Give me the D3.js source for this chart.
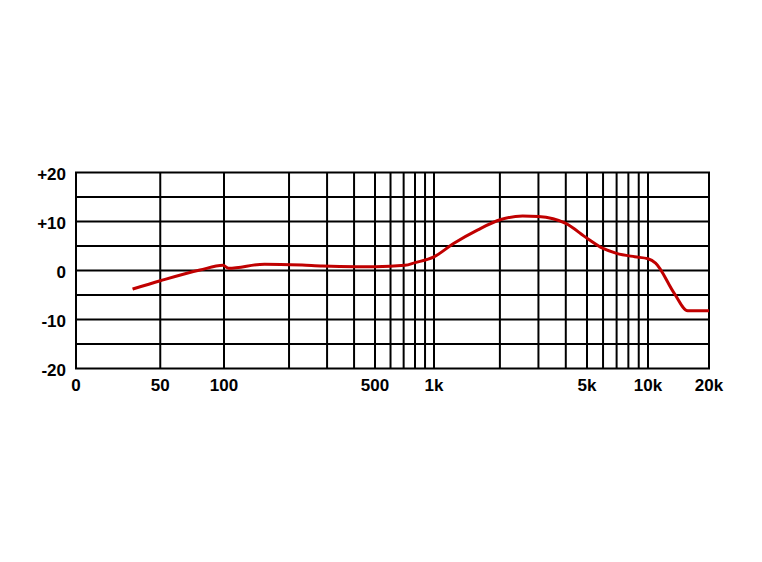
<!DOCTYPE html>
<html>
<head>
<meta charset="utf-8">
<script src="https://cdn.jsdelivr.net/npm/d3@7"></script>
<style>
  body { margin: 0; background: #fff; }
  text { font-family: "Liberation Sans", Arial, sans-serif; font-weight: bold; font-size: 17px; fill: #000; }
</style>
</head>
<body>
<script>
// frequency response data
var freqs = [37, 50, 77, 99, 105, 154, 230, 286, 412, 500, 711, 800, 1000, 1228, 1586, 2020, 2540, 3000, 4000, 5000, 6000, 7000, 8600, 10000, 10900, 13500, 15700, 20000];
var dbs   = [-3.8, -2.1, 0.1, 1.05, 0.45, 1.3, 1.1, 0.9, 0.78, 0.78, 1.06, 1.6, 2.8, 5.5, 8.3, 10.4, 11.1, 11.0, 9.6, 6.6, 4.5, 3.5, 2.8, 2.4, 1.5, -4.7, -8.2, -8.2];

var gridFreqs = [50, 100, 200, 300, 400, 500, 600, 700, 800, 900, 1000, 2000, 3000, 4000, 5000, 6000, 7000, 8000, 9000, 10000];
var gridDb = [-15, -10, -5, 0, 5, 10, 15];
var xTickVals = [20, 50, 100, 500, 1000, 5000, 10000, 20000];
var xTickLabels = ["0", "50", "100", "500", "1k", "5k", "10k", "20k"];
var yTickVals = [20, 10, 0, -10, -20];
var yTickLabels = ["+20", "+10", "0", "-10", "-20"];

var width = 762, height = 562;
var plotLeft = 76, plotRight = 709, plotTop = 172.5, plotBottom = 368.5;

var svg = d3.select("body").append("svg")
    .attr("width", width)
    .attr("height", height);

// the printed grid is not quite even per decade, so pin the labelled lines
var x = d3.scaleLog()
    .domain([20, 100, 500, 1000, 5000, 10000, 20000])
    .range([plotLeft, 224, 375, 434, 587, 648, plotRight]);
var y = d3.scaleLinear().domain([-20, 20]).range([plotBottom, plotTop]);

// grid
svg.selectAll(".vgrid")
    .data(gridFreqs)
  .enter().append("line")
    .attr("x1", function(d) { return x(d); })
    .attr("x2", function(d) { return x(d); })
    .attr("y1", plotTop)
    .attr("y2", plotBottom)
    .attr("stroke", "#000")
    .attr("stroke-width", 2);

svg.selectAll(".hgrid")
    .data(gridDb)
  .enter().append("line")
    .attr("x1", plotLeft)
    .attr("x2", plotRight)
    .attr("y1", function(d) { return y(d); })
    .attr("y2", function(d) { return y(d); })
    .attr("stroke", "#000")
    .attr("stroke-width", 2);

svg.append("rect")
    .attr("x", plotLeft)
    .attr("y", plotTop)
    .attr("width", plotRight - plotLeft)
    .attr("height", plotBottom - plotTop)
    .attr("fill", "none")
    .attr("stroke", "#000")
    .attr("stroke-width", 2);

// tick labels
svg.selectAll(".ylab")
    .data(yTickVals)
  .enter().append("text")
    .attr("x", 66)
    .attr("y", function(d) { return y(d) + 7.5; })
    .attr("text-anchor", "end")
    .text(function(d, i) { return yTickLabels[i]; });

svg.selectAll(".xlab")
    .data(xTickVals)
  .enter().append("text")
    .attr("x", function(d) { return x(d); })
    .attr("y", 391)
    .attr("text-anchor", "middle")
    .text(function(d, i) { return xTickLabels[i]; });

// response curve
var line = d3.line()
    .x(function(d, i) { return x(freqs[i]); })
    .y(function(d) { return y(d); })
    .curve(d3.curveMonotoneX);

svg.append("path")
    .datum(dbs)
    .attr("d", line)
    .attr("fill", "none")
    .attr("stroke", "#c00000")
    .attr("stroke-width", 3)
    .attr("stroke-linejoin", "round");
</script>
</body>
</html>
